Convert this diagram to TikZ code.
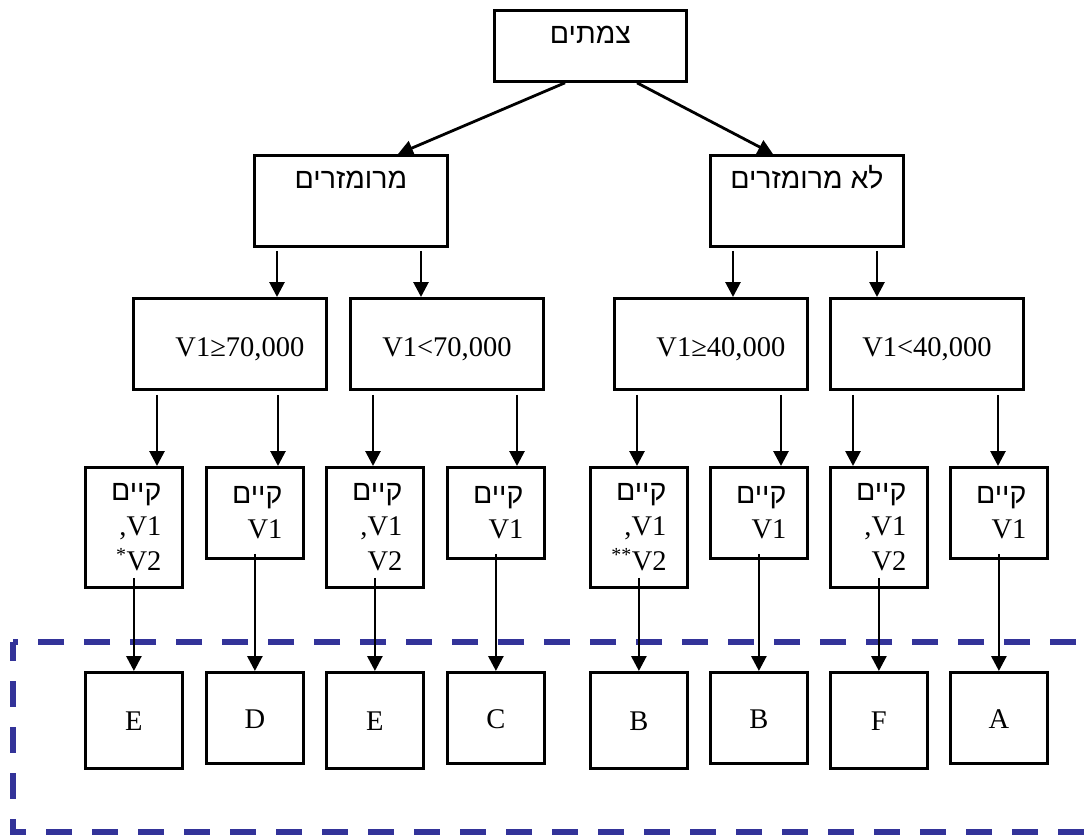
\documentclass[tikz,border=0pt]{standalone}
\usepackage{fontspec}
\setmainfont{Liberation Serif}
\newfontfamily\hebfont[Script=Hebrew]{Liberation Sans}
\usetikzlibrary{arrows.meta}
\TeXXeTstate=1
\newcommand{\heb}[1]{{\hebfont\beginR #1\endR}}
\newcommand{\onlyvone}{\heb{קיים}\\V1}
\newcommand{\vonevtwo}[1]{\heb{קיים}\\,V1\\\textsuperscript{#1}V2}
\definecolor{frameblue}{RGB}{51,51,153}
\tikzset{box/.style={
  draw,
  line width=2.8pt,
  inner sep=0pt,
  anchor=north west,
  minimum width=193pt,
  minimum height=91pt
}}
\tikzset{cond/.style={
  box,
  minimum width=97pt,
  text width=55pt,
  align=right
}}
\tikzset{leaf/.style={
  box,
  minimum width=97pt,
  minimum height=#1,
  text height=21pt,
  text depth=0pt
}, leaf/.default=91pt}
\tikzset{arr/.style={
  -{Triangle[length=15pt,width=15pt]},
  line width=2.8pt
}}
\tikzset{frame/.style={
  draw=frameblue,
  line width=6pt,
  dash pattern=on 26pt off 20pt,
  dash phase=7pt
}}

\begin{document}
\begin{tikzpicture}[x=1pt,y=-1pt,font=\fontsize{28.5}{35}\selectfont]
    \useasboundingbox (0,0) rectangle (1088,835);
    \clip (0,0) rectangle (1088,835);
    % Frame round the results
    \draw[frame] (13,642) rectangle (1110,832);
    % Boxes
    \node[box,minimum width=192pt,minimum height=71pt,
      text height=20pt,text depth=25pt] (junc) at (493,9) {\heb{צמתים}};
    \node[box,text height=20pt,text depth=45pt] (sig) at (253,154)
      {\heb{מרומזרים}};
    \node[box,text height=20pt,text depth=45pt] (nosig) at (709,154)
      {\heb{לא מרומזרים}};
    \node[box,text height=28pt,text depth=3pt] (ge70) at (132,297)
      {\hspace*{20pt}V1≥70,000};
    \node[box,text height=28pt,text depth=3pt] (lt70) at (349,297)
      {V1<70,000};
    \node[box,text height=28pt,text depth=3pt] (ge40) at (613,297)
      {\hspace*{20pt}V1≥40,000};
    \node[box,text height=28pt,text depth=3pt] (lt40) at (829,297)
      {V1<40,000};
    \node[cond,minimum height=120pt] (c1) at (84,466) {\vonevtwo{*}};
    \node[cond] (c2) at (205,466) {\onlyvone};
    \node[cond,minimum height=120pt] (c3) at (325,466) {\vonevtwo{}};
    \node[cond] (c4) at (446,466) {\onlyvone};
    \node[cond,minimum height=120pt] (c5) at (589,466) {\vonevtwo{**}};
    \node[cond] (c6) at (709,466) {\onlyvone};
    \node[cond,minimum height=120pt] (c7) at (829,466) {\vonevtwo{}};
    \node[cond] (c8) at (949,466) {\onlyvone};
    \node[leaf=96pt] (e1) at (84,671) {E};
    \node[leaf] (e2) at (205,671) {D};
    \node[leaf=96pt] (e3) at (325,671) {E};
    \node[leaf] (e4) at (446,671) {C};
    \node[leaf=96pt] (e5) at (589,671) {B};
    \node[leaf] (e6) at (709,671) {B};
    \node[leaf=96pt] (e7) at (829,671) {F};
    \node[leaf] (e8) at (949,671) {A};
    % Arrows
    \draw[arr] ([xshift=72pt]junc.south west) -- ([xshift=145pt]sig.north west);
    \draw[arr] ([xshift=144pt]junc.south west) -- ([xshift=64pt]nosig.north west);
    \foreach \a/\b/\dx/\dy in {sig/ge70/24/3, sig/lt70/168/3,
        nosig/ge40/24/3, nosig/lt40/168/3,
        ge70/c1/25/4, ge70/c2/146/4, lt70/c3/24/4, lt70/c4/168/4,
        ge40/c5/24/4, ge40/c6/168/4, lt40/c7/24/4, lt40/c8/169/4} {
      \coordinate (s) at ([xshift=\dx pt,yshift=-\dy pt]\a.south west);
      \draw[arr] (s) -- (s |- \b.north);
    }
    \foreach \a/\b/\dy in {c1/e1/11, c2/e2/6, c3/e3/11, c4/e4/6,
        c5/e5/11, c6/e6/6, c7/e7/11, c8/e8/6}
      \draw[arr] ([yshift=\dy pt]\a.south) -- (\b.north);
  \end{tikzpicture}
\end{document}
